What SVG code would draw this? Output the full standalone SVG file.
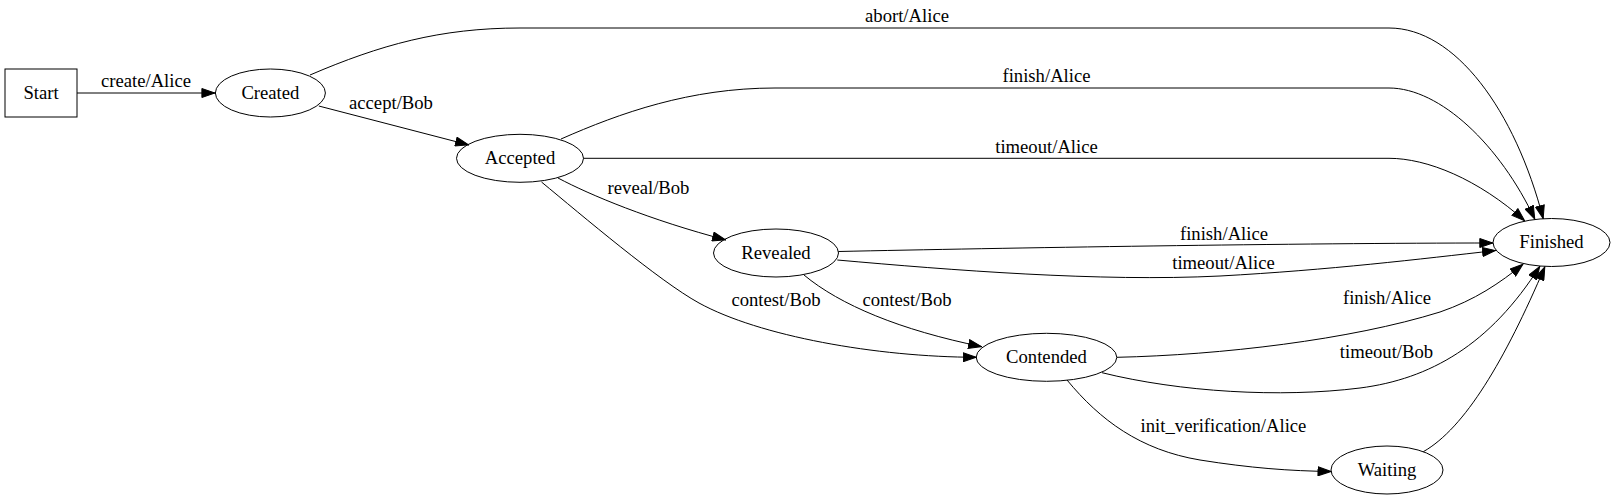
<svg xmlns="http://www.w3.org/2000/svg" width="1616" height="500" viewBox="0 0 1616 500">
<style>
  .node { fill: none; stroke: #000; stroke-width: 1; }
  .edge { fill: none; stroke: #000; stroke-width: 1; marker-end: url(#ah); }
  text { font-family: "Liberation Serif", "Times New Roman", serif; font-size: 18.67px; fill: #000; text-anchor: middle; }
</style>
<defs>
  <marker id="ah" markerUnits="userSpaceOnUse" markerWidth="14" markerHeight="10" viewBox="0 0 14 10" refX="14" refY="5" orient="auto">
    <path d="M0.5,0.5 L13.5,5 L0.5,9.5 z" fill="#000" stroke="#000" stroke-width="1"/>
  </marker>
</defs>
<rect width="1616" height="500" fill="#fff"/>

<g id="connectors">
  <g id="e-start-created">
    <path class="edge" d="M77,93 L215.4,93"/>
    <text x="146" y="87">create/Alice</text>
  </g>
  <g id="e-created-accepted">
    <path class="edge" d="M318.8,106 L469,145"/>
    <text x="391" y="108.5">accept/Bob</text>
  </g>
  <g id="e-created-finished">
    <path class="edge" d="M310,75 C380,45 440,28 520,28 L1389,28 C1455,28 1515,110 1543.3,219"/>
    <text x="907" y="21.5">abort/Alice</text>
  </g>
  <g id="e-accepted-finished-finish">
    <path class="edge" d="M561,139 C620,113 690,88 775,88 L1389,88 C1440,88 1500,145 1535,219.5"/>
    <text x="1046.5" y="81.5">finish/Alice</text>
  </g>
  <g id="e-accepted-finished-timeout">
    <path class="edge" d="M583.5,158.3 L1389,158.3 C1427,158.3 1478,179 1525,221"/>
    <text x="1046.5" y="152.5">timeout/Alice</text>
  </g>
  <g id="e-accepted-revealed">
    <path class="edge" d="M558,178 C590,195 650,220 726,240"/>
    <text x="648.5" y="193.5">reveal/Bob</text>
  </g>
  <g id="e-accepted-contended">
    <path class="edge" d="M541.5,182 C581.5,215 659,281 699,303 C759,336 876,357 976.6,357.3"/>
    <text x="776" y="306">contest/Bob</text>
  </g>
  <g id="e-revealed-finished-finish">
    <path class="edge" d="M838.4,251.5 C1000,248 1300,243 1493.3,243"/>
    <text x="1224" y="240">finish/Alice</text>
  </g>
  <g id="e-revealed-finished-timeout">
    <path class="edge" d="M837.3,260 C950,270 1100,282 1220,276 C1330,270 1420,259 1496,250.5"/>
    <text x="1223.5" y="268.8">timeout/Alice</text>
  </g>
  <g id="e-revealed-contended">
    <path class="edge" d="M804,275 C840,305 900,330 982,346.7"/>
    <text x="907" y="306">contest/Bob</text>
  </g>
  <g id="e-contended-finished-finish">
    <path class="edge" d="M1117,357.3 C1220,355 1350,340 1440,312 C1475,300 1500,283 1523.3,264"/>
    <text x="1387" y="303.5">finish/Alice</text>
  </g>
  <g id="e-contended-finished-timeout">
    <path class="edge" d="M1102,372.7 C1180,392 1280,398 1360,388 C1430,379 1490,345 1540,266"/>
    <text x="1386.5" y="357.5">timeout/Bob</text>
  </g>
  <g id="e-contended-waiting">
    <path class="edge" d="M1067,380 C1100,420 1140,450 1200,460 C1250,468 1290,471 1331.5,471.5"/>
    <text x="1223.5" y="432">init_verification/Alice</text>
  </g>
  <g id="e-waiting-finished">
    <path class="edge" d="M1423.3,451.7 C1465,428 1505,360 1545,266.5"/>
  </g>
</g>

<g id="Start">
  <rect class="node" x="5" y="69" width="72" height="48"/>
  <text x="41" y="98.6">Start</text>
</g>
<g id="Created">
  <ellipse class="node" cx="270.4" cy="93" rx="55" ry="24"/>
  <text x="270.4" y="98.6">Created</text>
</g>
<g id="Accepted">
  <ellipse class="node" cx="520" cy="158.3" rx="63.5" ry="24"/>
  <text x="520" y="163.9">Accepted</text>
</g>
<g id="Revealed">
  <ellipse class="node" cx="776" cy="253" rx="62.5" ry="24"/>
  <text x="776" y="258.6">Revealed</text>
</g>
<g id="Contended">
  <ellipse class="node" cx="1046.5" cy="357.3" rx="70.3" ry="24"/>
  <text x="1046.5" y="362.9">Contended</text>
</g>
<g id="Waiting">
  <ellipse class="node" cx="1387" cy="470" rx="56" ry="24"/>
  <text x="1387" y="475.6">Waiting</text>
</g>
<g id="Finished">
  <ellipse class="node" cx="1551.5" cy="242.5" rx="58.5" ry="24"/>
  <text x="1551.5" y="248.1">Finished</text>
</g>
</svg>
